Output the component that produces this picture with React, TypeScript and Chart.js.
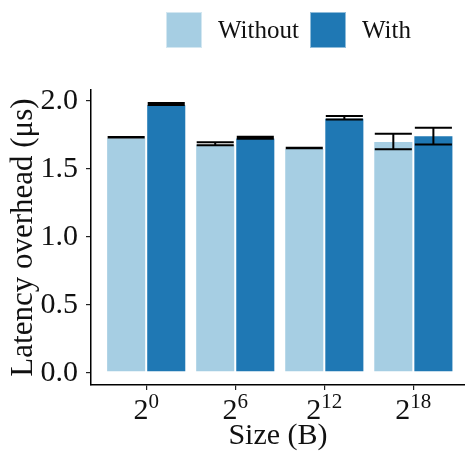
import React, { useEffect, useRef } from "react";
import { Chart, registerables } from "chart.js";

Chart.register(...registerables);

// Message sizes are powers of two; these are the exponents shown on the x axis.
const sizeExponents = ["0", "6", "12", "18"];
const seriesNames = ["Without", "With"];
const seriesColors = ["#a6cee3", "#1f78b4"];

// Mean latency overhead (µs) and error-bar limits per message size.
const withoutMean = [1.732, 1.684, 1.653, 1.705];
const withoutLow = [1.73, 1.673, 1.651, 1.644];
const withoutHigh = [1.734, 1.695, 1.655, 1.759];
const withMean = [1.976, 1.73, 1.875, 1.747];
const withLow = [1.969, 1.722, 1.863, 1.68];
const withHigh = [1.984, 1.737, 1.888, 1.803];

const yTickValues = [0, 0.5, 1.0, 1.5, 2.0];

const FONT = "'Liberation Serif', 'Times New Roman', serif";
const TEXT = "#111111";

const lows = [withoutLow, withLow];
const highs = [withoutHigh, withHigh];

const decorations = {
  id: "decorations",
  afterDatasetsDraw(chart: any) {
    const ctx = chart.ctx;
    ctx.save();
    ctx.strokeStyle = "#000";
    ctx.lineWidth = 2;
    const yScale = chart.scales.y;
    for (let d = 0; d < 2; d++) {
      const meta = chart.getDatasetMeta(d);
      meta.data.forEach((el: any, i: number) => {
        const half = el.width / 2 - 1.5;
        const yl = yScale.getPixelForValue(lows[d][i]);
        const yh = yScale.getPixelForValue(highs[d][i]);
        ctx.beginPath();
        ctx.moveTo(el.x, yl);
        ctx.lineTo(el.x, yh);
        ctx.moveTo(el.x - half, yl);
        ctx.lineTo(el.x + half, yl);
        ctx.moveTo(el.x - half, yh);
        ctx.lineTo(el.x + half, yh);
        ctx.stroke();
      });
    }
    ctx.restore();
  },
  afterDraw(chart: any) {
    const ctx = chart.ctx;
    const area = chart.chartArea;
    ctx.save();
    ctx.fillStyle = TEXT;

    // x tick labels: 2 with a superscript exponent
    const xScale = chart.scales.x;
    sizeExponents.forEach((exp, i) => {
      const cx = xScale.getPixelForValue(i);
      ctx.font = `30px ${FONT}`;
      const wBase = ctx.measureText("2").width;
      ctx.font = `21px ${FONT}`;
      const wSup = ctx.measureText(exp).width;
      const start = cx - (wBase + wSup) / 2;
      ctx.textAlign = "left";
      ctx.textBaseline = "alphabetic";
      ctx.font = `30px ${FONT}`;
      ctx.fillText("2", start, 419);
      ctx.font = `21px ${FONT}`;
      ctx.fillText(exp, start + wBase, 408);
    });

    // axis titles
    ctx.font = `30px ${FONT}`;
    ctx.textAlign = "center";
    ctx.textBaseline = "alphabetic";
    ctx.fillText("Size (B)", (area.left + area.right) / 2, 444);

    ctx.save();
    ctx.translate(32, (area.top + area.bottom) / 2);
    ctx.rotate(-Math.PI / 2);
    ctx.font = `31px ${FONT}`;
    ctx.fillText("Latency overhead (μs)", 0, 0);
    ctx.restore();

    // legend
    const boxes = [166, 310];
    ctx.font = `25px ${FONT}`;
    ctx.textAlign = "left";
    seriesNames.forEach((name, k) => {
      ctx.fillStyle = seriesColors[k];
      ctx.fillRect(boxes[k], 12, 36, 36);
      ctx.strokeStyle = "rgba(255,255,255,0.5)";
      ctx.lineWidth = 1;
      ctx.strokeRect(boxes[k] + 0.5, 12.5, 35, 35);
      ctx.fillStyle = TEXT;
      ctx.fillText(name, boxes[k] + 52, 38);
    });
    ctx.restore();
  },
};

export default function App() {
  const ref = useRef<HTMLCanvasElement | null>(null);

  useEffect(() => {
    if (!ref.current) return;
    const chart = new Chart(ref.current, {
      type: "bar",
      data: {
        datasets: [
          {
            label: seriesNames[0],
            data: withoutMean.map((v, i) => ({ x: i, y: v })),
            backgroundColor: seriesColors[0],
            borderColor: "rgba(255,255,255,0.55)",
            borderWidth: 1,
            borderSkipped: false,
          },
          {
            label: seriesNames[1],
            data: withMean.map((v, i) => ({ x: i, y: v })),
            backgroundColor: seriesColors[1],
            borderColor: "rgba(255,255,255,0.55)",
            borderWidth: 1,
            borderSkipped: false,
          },
        ],
      },
      options: {
        responsive: false,
        animation: false,
        events: [],
        categoryPercentage: 0.9,
        barPercentage: 1.0,
        layout: { padding: { top: 90, left: 0, right: 0, bottom: 0 } },
        plugins: {
          legend: { display: false },
          tooltip: { enabled: false },
        },
        scales: {
          x: {
            type: "linear",
            min: -0.62,
            max: 3.58,
            offset: false,
            afterBuildTicks: (s: any) => {
              s.ticks = sizeExponents.map((_, i) => ({ value: i }));
            },
            afterFit: (s: any) => {
              s.height = 67;
            },
            ticks: { callback: () => "", display: true },
            grid: {
              offset: false,
              drawOnChartArea: false,
              drawTicks: true,
              tickLength: 5,
              tickColor: "#222",
              lineWidth: 1.2,
            },
            border: { color: "#000", width: 1.5 },
          },
          y: {
            min: -0.09,
            max: 2.08,
            afterBuildTicks: (s: any) => {
              s.ticks = yTickValues.map((v) => ({ value: v }));
            },
            afterFit: (s: any) => {
              s.width = 91;
            },
            ticks: {
              callback: (v: any) => Number(v).toFixed(1),
              font: { family: FONT, size: 30 },
              color: TEXT,
              padding: 8,
            },
            grid: {
              drawOnChartArea: false,
              drawTicks: true,
              tickLength: 5,
              tickColor: "#222",
              lineWidth: 1.2,
            },
            border: { color: "#000", width: 1.5 },
          },
        },
      },
      plugins: [decorations],
    });
    return () => chart.destroy();
  }, []);

  return (
    <div style={{ position: "fixed", left: 0, top: 0, width: 465, height: 452, background: "#fff" }}>
      <canvas ref={ref} width={465} height={452} />
    </div>
  );
}
